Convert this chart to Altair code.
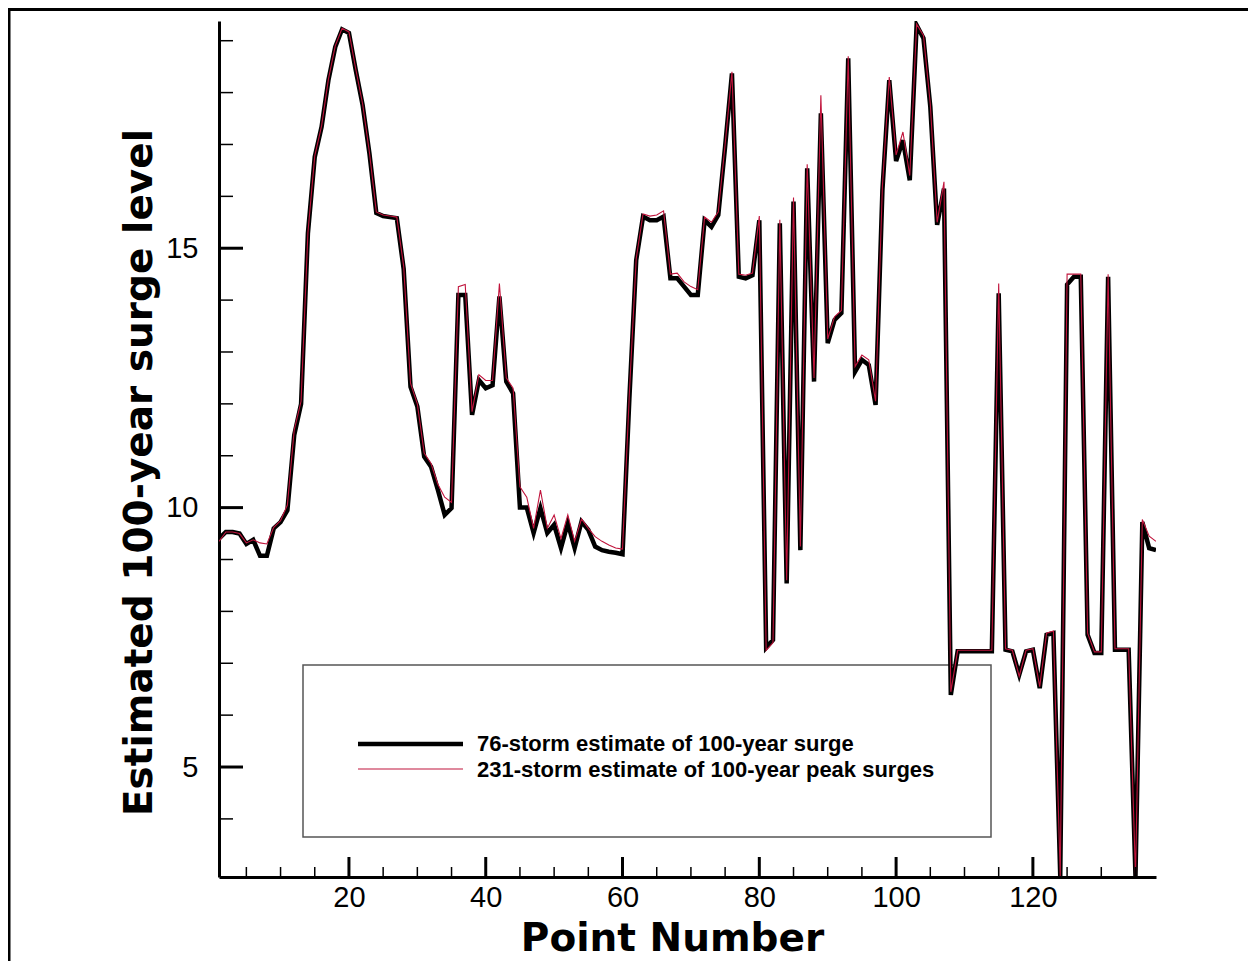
import altair as alt
import pandas as pd

points = list(range(1, 139))

surge_76 = [
    9.40, 9.53, 9.53, 9.50, 9.30, 9.38, 9.07, 9.07, 9.60, 9.72,
    9.95, 11.40, 12.00, 15.29, 16.76, 17.34, 18.24, 18.88, 19.22, 19.15,
    18.43, 17.76, 16.82, 15.68, 15.62, 15.60, 15.58, 14.60, 12.33, 11.95,
    10.98, 10.79, 10.34, 9.86, 9.99, 14.10, 14.10, 11.79, 12.46, 12.30,
    12.36, 14.07, 12.43, 12.20, 10.00, 10.00, 9.51, 9.99, 9.51, 9.67,
    9.22, 9.70, 9.22, 9.73, 9.57, 9.25, 9.18, 9.15, 9.13, 9.10,
    12.10, 14.77, 15.61, 15.54, 15.54, 15.61, 14.42, 14.42, 14.26, 14.10,
    14.10, 15.54, 15.41, 15.64, 16.96, 18.37, 14.45, 14.42, 14.48, 15.54,
    7.30, 7.45, 15.48, 8.54, 15.90, 9.18, 16.54, 12.43, 17.60, 13.17,
    13.62, 13.75, 18.66, 12.62, 12.85, 12.75, 11.98, 16.12, 18.24, 16.68,
    17.08, 16.31, 19.30, 19.05, 17.73, 15.45, 16.15, 6.39, 7.23, 7.23,
    7.23, 7.23, 7.23, 7.23, 14.13, 7.26, 7.23, 6.78, 7.23, 7.26,
    6.52, 7.55, 7.58, 2.90, 14.30, 14.45, 14.45, 7.55, 7.20, 7.20,
    14.45, 7.26, 7.26, 7.26, 2.90, 9.72, 9.22, 9.18,
]

surge_231 = [
    9.35, 9.53, 9.53, 9.50, 9.32, 9.38, 9.32, 9.30, 9.62, 9.75,
    10.05, 11.50, 12.05, 15.30, 16.78, 17.36, 18.26, 18.90, 19.24, 19.17,
    18.45, 17.78, 16.84, 15.70, 15.64, 15.62, 15.60, 14.65, 12.40, 12.00,
    11.05, 10.85, 10.45, 10.20, 10.10, 14.26, 14.30, 11.85, 12.56, 12.45,
    12.45, 14.32, 12.50, 12.30, 10.40, 10.20, 9.60, 10.34, 9.60, 9.86,
    9.40, 9.86, 9.35, 9.78, 9.60, 9.44, 9.35, 9.28, 9.22, 9.20,
    12.20, 14.80, 15.66, 15.62, 15.64, 15.72, 14.50, 14.52, 14.35, 14.26,
    14.20, 15.60, 15.50, 15.70, 17.00, 18.40, 14.50, 14.48, 14.52, 15.62,
    7.25, 7.40, 15.55, 8.60, 15.98, 9.25, 16.62, 12.50, 17.95, 13.25,
    13.68, 13.80, 18.70, 12.72, 12.94, 12.85, 12.05, 16.20, 18.30, 16.80,
    17.24, 16.40, 19.32, 19.10, 17.78, 15.50, 16.28, 6.45, 7.25, 7.25,
    7.25, 7.25, 7.25, 7.25, 14.32, 7.28, 7.25, 6.75, 7.25, 7.28,
    6.55, 7.58, 7.62, 2.90, 14.50, 14.50, 14.50, 7.58, 7.22, 7.22,
    14.50, 7.28, 7.28, 7.28, 2.90, 9.77, 9.45, 9.35,
]

series_names = [
    "76-storm estimate of 100-year surge",
    "231-storm estimate of 100-year peak surges",
]

x_major = [20, 40, 60, 80, 100, 120]
x_minor = [5, 10, 15, 25, 30, 35, 45, 50, 55, 65, 70, 75, 85, 90, 95,
           105, 110, 115, 125, 130, 135]
y_major = [5, 10, 15]
y_minor = [4, 6, 7, 8, 9, 11, 12, 13, 14, 16, 17, 18, 19]

W, H = 937, 856

df76 = pd.DataFrame({"point": points, "surge": surge_76})
df231 = pd.DataFrame({"point": points, "surge": surge_231})

xs = alt.Scale(domain=[1, 138], nice=False, zero=False)
ys = alt.Scale(domain=[2.88, 19.38], nice=False, zero=False)

FONT = "Liberation Sans"

xaxis = alt.Axis(
    values=x_major, ticks=False, grid=False, domainWidth=3, domainColor="black",
    labelFont=FONT, labelFontSize=29, labelColor="black", labelPadding=6,
    title="Point Number", titleFont="DejaVu Sans", titleFontWeight="bold",
    titleFontSize=39, titleColor="black", titleX=453, titleY=73,
    titleAlign="center", titleBaseline="alphabetic")
yaxis = alt.Axis(
    values=y_major, ticks=False, grid=False, domainWidth=3, domainColor="black",
    labelFont=FONT, labelFontSize=29, labelColor="black", labelPadding=21,
    title="Estimated 100-year surge level", titleFont="DejaVu Sans",
    titleFontWeight="bold", titleFontSize=39, titleColor="black",
    titleAngle=270, titleX=-80, titleY=451, titleAlign="center",
    titleBaseline="middle")

black_line = alt.Chart(df76).mark_line(color="black", strokeWidth=4.5, clip=True).encode(
    x=alt.X("point:Q", scale=xs, axis=xaxis),
    y=alt.Y("surge:Q", scale=ys, axis=yaxis),
)

red_line = alt.Chart(df231).mark_line(color="#c0143c", strokeWidth=1.1, clip=True).encode(
    x=alt.X("point:Q", scale=xs, axis=xaxis),
    y=alt.Y("surge:Q", scale=ys, axis=yaxis),
)

def xticks(vals, length, width):
    return alt.Chart(pd.DataFrame({"point": vals})).mark_rule(color="black", strokeWidth=width).encode(
        x=alt.X("point:Q", scale=xs, axis=xaxis),
        y=alt.value(H),
        y2=alt.value(H - length),
    )

def yticks(vals, length, width):
    return alt.Chart(pd.DataFrame({"surge": vals})).mark_rule(color="black", strokeWidth=width).encode(
        y=alt.Y("surge:Q", scale=ys, axis=yaxis),
        x=alt.value(0),
        x2=alt.value(length),
    )

one = pd.DataFrame({"k": [0]})

legend_box = alt.Chart(one).mark_rect(fillOpacity=0, stroke="#555555", strokeWidth=1.5).encode(
    x=alt.value(84), x2=alt.value(772), y=alt.value(644), y2=alt.value(816)
)

outer_frame = alt.Chart(one).mark_rect(fillOpacity=0, stroke="black", strokeWidth=3, clip=False).encode(
    x=alt.value(-210), x2=alt.value(1300), y=alt.value(-11.5), y2=alt.value(1200)
)

leg_black = alt.Chart(one).mark_rule(color="black", strokeWidth=4.5).encode(
    x=alt.value(139), x2=alt.value(244), y=alt.value(723)
)
leg_red = alt.Chart(one).mark_rule(color="#c0143c", strokeWidth=1.1).encode(
    x=alt.value(139), x2=alt.value(244), y=alt.value(748)
)

def leg_text(label, ypos):
    return alt.Chart(pd.DataFrame({"label": [label]})).mark_text(
        align="left", baseline="middle", font=FONT, fontWeight="bold",
        fontSize=22, color="black").encode(
        x=alt.value(258), y=alt.value(ypos), text="label:N")

chart = alt.layer(
    outer_frame,
    legend_box,
    leg_black,
    leg_red,
    leg_text(series_names[0], 723),
    leg_text(series_names[1], 749),
    black_line,
    red_line,
    xticks(x_major, 20, 3),
    xticks(x_minor, 10, 1.5),
    yticks(y_major, 24, 3),
    yticks(y_minor, 14, 1.5),
).properties(
    width=W,
    height=H,
    padding={"left": 211, "top": 13, "right": 92, "bottom": 84},
    autosize=alt.AutoSizeParams(type="none"),
    background="white",
).configure_view(stroke=None)

chart.save("out.html", embed_options={"renderer": "svg", "actions": False})
